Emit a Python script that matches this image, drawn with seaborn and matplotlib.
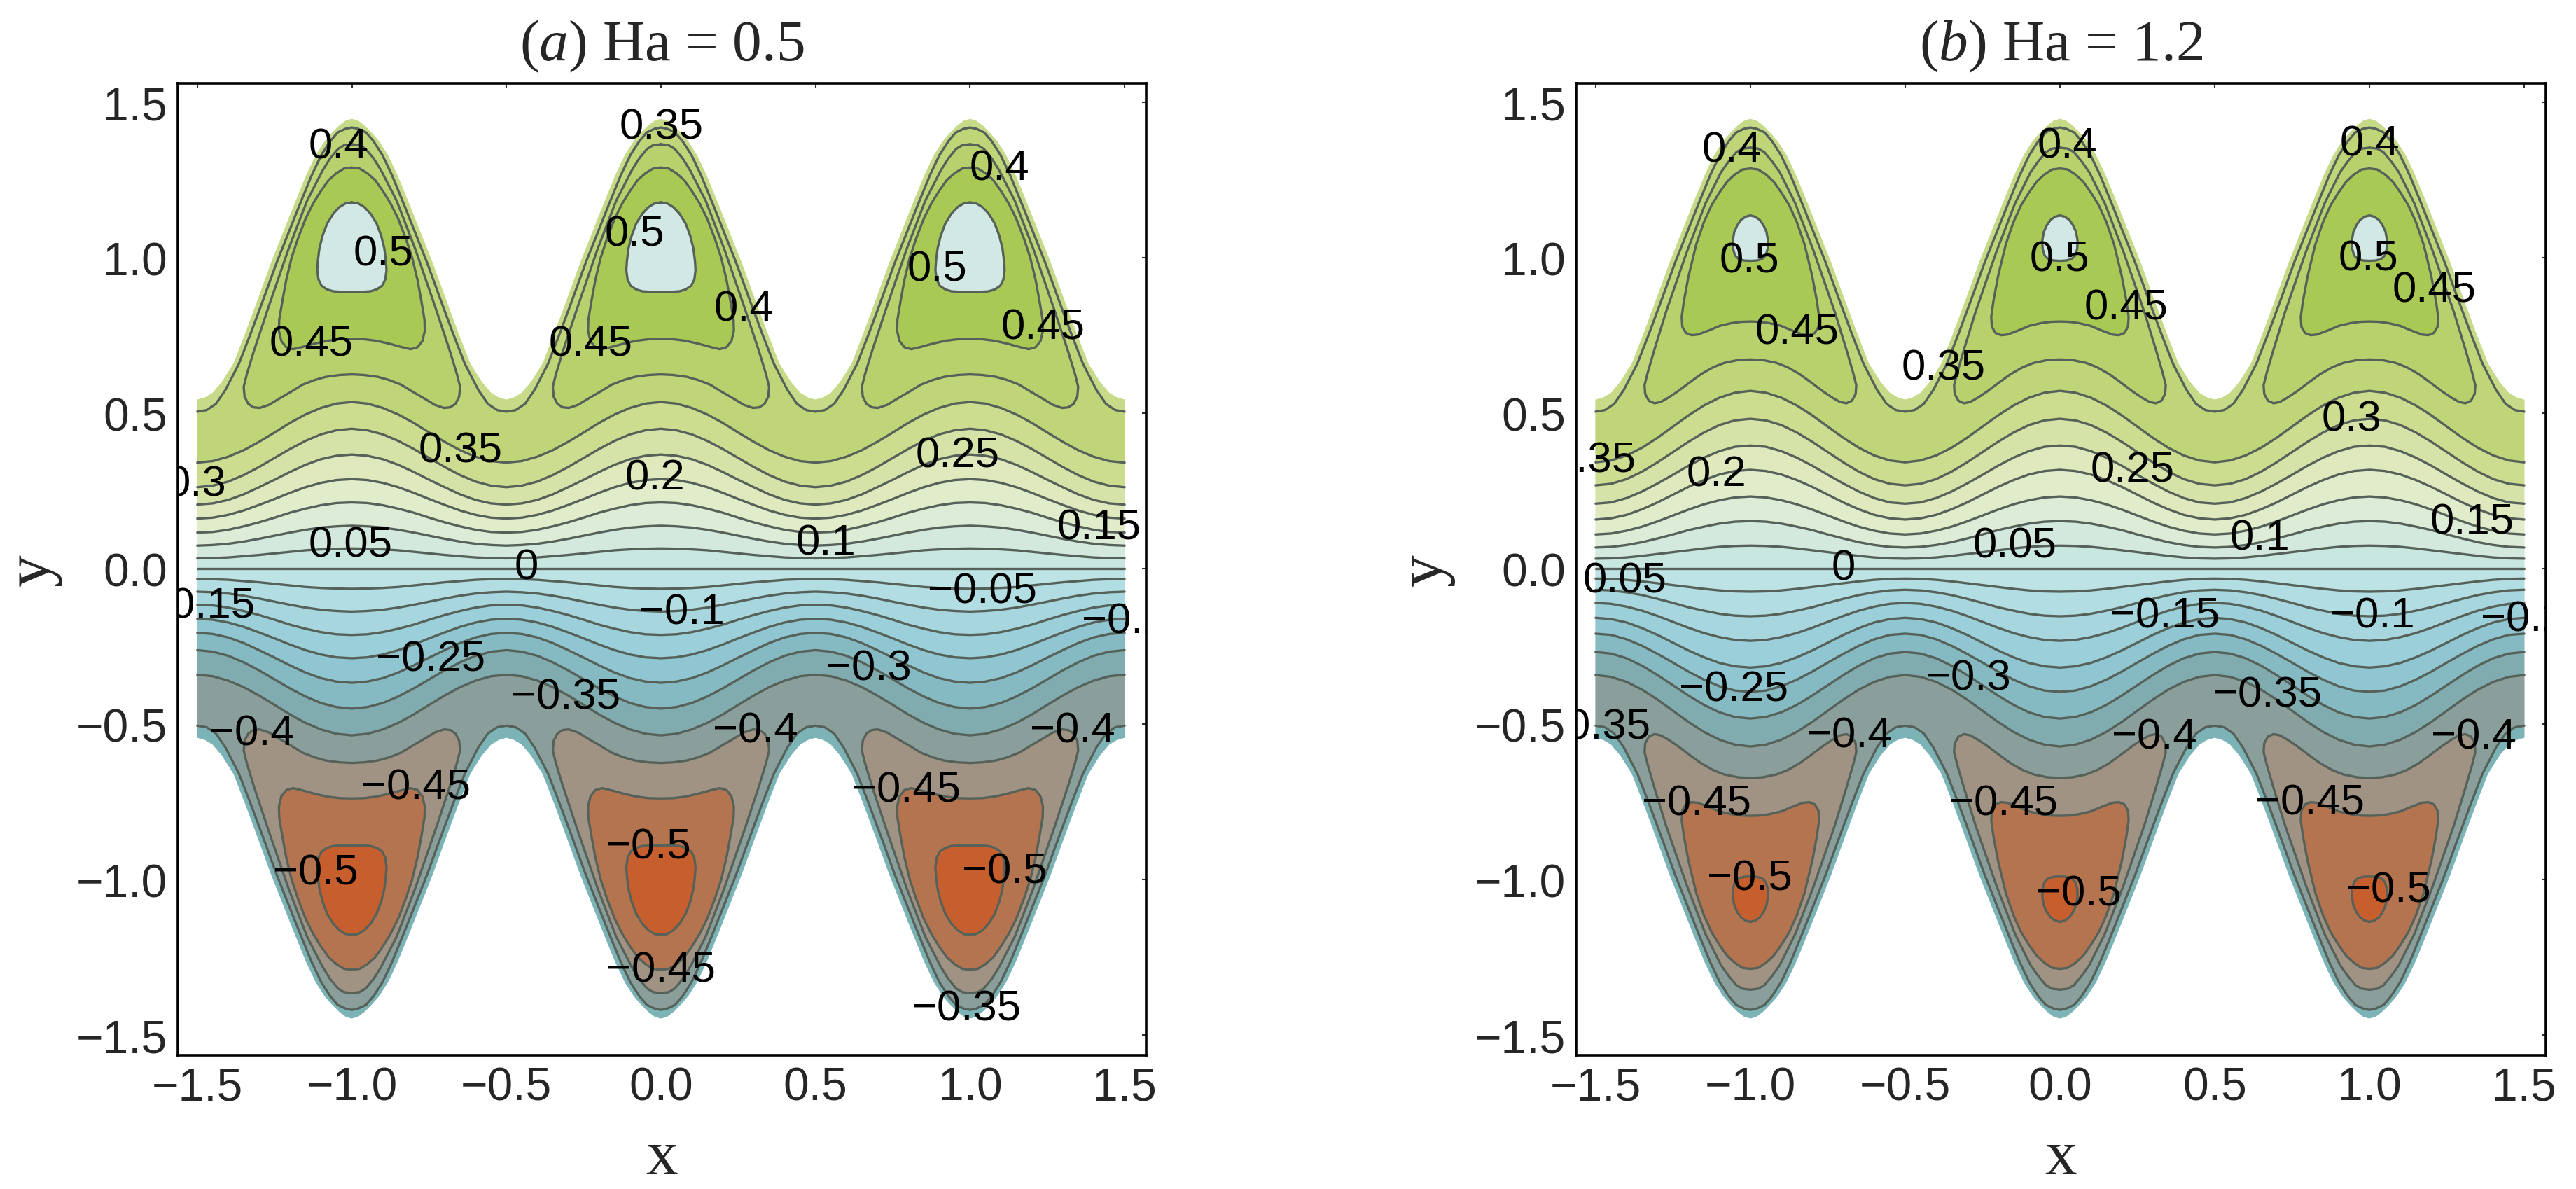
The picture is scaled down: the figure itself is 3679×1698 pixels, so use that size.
import numpy as np
import matplotlib
matplotlib.use("Agg")
import matplotlib.pyplot as plt
import seaborn as sns

# --- Data ---
# One period of the channel is stored, as y against distance from the peak (dx)
PEAKS = [-1.0, 0.0, 1.0]
TICKS = [-1.5, -1.0, -0.5, 0.0, 0.5, 1.0, 1.5]
TICK_LABELS = ["\u22121.5", "\u22121.0", "\u22120.5", "0.0", "0.5", "1.0", "1.5"]

WALL_DX = [0, .02, .04, .065, .087, .116, .147, .184, .222, .26, .302, .343, .382, .42, .45, .475, .5]
WALL_Y = [1.446, 1.44, 1.425, 1.40, 1.375, 1.33, 1.265, 1.175, 1.08, .985, .87, .76, .66, .60, .565, .55, .543]

OUTER_DX = [0, .02, .046, .07, .099, .13, .167, .205, .243, .285, .326, .365, .409, .44, .47, .5]
OUTER_Y = [1.419, 1.415, 1.403, 1.375, 1.33, 1.265, 1.175, 1.08, .985, .87, .76, .66, .575, .53, .51, .505]

WAVE_DX = [0, .05, .1, .15, .2, .25, .3, .35, .4, .45, .5]
A_WAVES = [
    [.536, .531, .517, .496, .469, .438, .408, .381, .360, .346, .341],
    [.450, .445, .432, .411, .385, .356, .327, .301, .280, .267, .262],
    [.367, .363, .352, .334, .311, .286, .262, .239, .221, .210, .206],
    [.288, .285, .276, .262, .244, .224, .205, .187, .173, .164, .161],
    [.213, .211, .204, .193, .180, .164, .149, .136, .125, .118, .116],
    [.138, .136, .132, .125, .116, .106, .096, .087, .080, .076, .074],
    [.065, .064, .062, .059, .054, .049, .044, .040, .036, .034, .033],
]
B_WAVES = [
    [.572, .566, .550, .525, .493, .457, .421, .389, .364, .348, .342],
    [.482, .477, .462, .438, .408, .375, .342, .312, .288, .273, .268],
    [.396, .392, .378, .357, .331, .302, .274, .248, .227, .213, .209],
    [.318, .314, .303, .285, .263, .238, .213, .191, .173, .162, .158],
    [.232, .229, .220, .207, .190, .171, .152, .135, .122, .113, .110],
    [.153, .151, .145, .135, .124, .110, .097, .085, .076, .070, .068],
    [.074, .073, .070, .065, .059, .053, .047, .041, .036, .033, .032],
]
ZERO_LINE = [0, 0, 0, 0, 0, 0, 0, 0, 0, 0, 0]

# closed contours: half outline from the top of the loop round to its bottom
A_LOOP1_DX = [0, .025, .045, .07, .095, .145, .205, .273, .318, .34, .35, .347, .335, .318, .298, .268, .235, .195, .159, .12, .084, .04, 0]
A_LOOP1_Y = [1.365, 1.362, 1.35, 1.32, 1.28, 1.183, 1.028, .832, .697, .625, .585, .553, .530, .519, .517, .527, .547, .570, .592, .607, .617, .623, .625]
A_LOOP2_DX = [0, .025, .05, .075, .10, .125, .15, .175, .195, .212, .225, .235, .236, .228, .212, .19, .16, .12, .08, .04, 0]
A_LOOP2_Y = [1.29, 1.287, 1.272, 1.25, 1.215, 1.175, 1.125, 1.06, 1.0, .93, .86, .80, .765, .732, .712, .706, .713, .724, .733, .738, .739]
A_LOOP3_DX = [0, .02, .04, .06, .08, .095, .105, .110, .112, .108, .098, .08, .06, .03, 0]
A_LOOP3_Y = [1.178, 1.175, 1.163, 1.142, 1.11, 1.07, 1.03, .99, .96, .93, .91, .898, .892, .890, .890]

B_LOOP1_DX = [0, .025, .045, .07, .095, .145, .205, .273, .31, .332, .342, .34, .328, .31, .29, .265, .235, .195, .159, .12, .084, .04, 0]
B_LOOP1_Y = [1.354, 1.351, 1.34, 1.31, 1.275, 1.175, 1.02, .825, .705, .63, .59, .562, .54, .532, .536, .55, .57, .60, .626, .648, .662, .671, .673]
B_LOOP2_DX = [0, .025, .05, .075, .10, .125, .15, .175, .20, .215, .222, .22, .208, .19, .17, .135, .099, .06, .03, 0]
B_LOOP2_Y = [1.287, 1.284, 1.268, 1.245, 1.21, 1.17, 1.115, 1.043, .94, .86, .81, .778, .758, .751, .753, .766, .781, .790, .794, .795]
B_LOOP3_DX = [0, .015, .03, .042, .052, .057, .056, .05, .038, .02, 0]
B_LOOP3_Y = [1.136, 1.132, 1.122, 1.105, 1.083, 1.055, 1.03, 1.008, .996, .991, .99]

# contour labels
A_LABELS = ["0.4", "0.35", "0.4", "0.5", "0.5", "0.5", "0.4", "0.45", "0.45", "0.45", "0.35", "0.25", "0.2", "0.3",
            "0.1", "0.15", "0.05", "0", "\u22120.05", "\u22120.1", "\u22120.15", "\u22120.25", "\u22120.3", "\u22120.35",
            "\u22120.4", "\u22120.4", "\u22120.4", "\u22120.45", "\u22120.45", "\u22120.5", "\u22120.5", "\u22120.5",
            "\u22120.45", "\u22120.35", "\u22120.2"]
A_LABEL_X = [-1.044, .001, 1.096, -.898, -.084, .893, .269, -1.132, -.228, 1.236, -.648, .959, -.02, -1.503,
             .533, 1.417, -1.005, -.435, 1.04, .068, -1.49, -.746, .673, -.307,
             -1.323, .306, 1.332, -.792, .794, -1.116, -.042, 1.112,
             .001, .989, 1.499]
A_LABEL_Y = [1.355, 1.419, 1.287, 1.012, 1.075, .961, .834, .721, .721, .775, .378, .362, .291, .27,
             .081, .13, .074, .003, -.075, -.141, -.122, -.293, -.322, -.415,
             -.531, -.523, -.523, -.705, -.714, -.98, -.896, -.975,
             -1.292, -1.417, -.171]

B_LABELS = ["0.4", "0.4", "0.4", "0.5", "0.5", "0.5", "0.45", "0.45", "0.45", "0.35", "0.35", "0.3", "0.25", "0.2",
            "0.15", "0.1", "0.05", "0.05", "0", "\u22120.15", "\u22120.1", "\u22120.2", "\u22120.25", "\u22120.3",
            "\u22120.35", "\u22120.35", "\u22120.4", "\u22120.4", "\u22120.4", "\u22120.45", "\u22120.45", "\u22120.45",
            "\u22120.5", "\u22120.5", "\u22120.5"]
B_LABEL_X = [-1.06, .024, 1.002, -1.004, 0, .996, -.85, .215, 1.209, -.377, -1.505, .942, .234, -1.109,
             1.332, .646, -.146, -1.406, -.70, .339, 1.009, 1.497, -1.054, -.297,
             .669, -1.499, -.682, .305, 1.336, -1.175, -.182, .807,
             -1.003, .061, 1.06]
B_LABEL_Y = [1.344, 1.359, 1.365, .99, .993, .995, .76, .838, .894, .644, .347, .48, .315, .302,
             .149, .097, .072, -.04, 0, -.153, -.153, -.165, -.39, -.354,
             -.408, -.511, -.538, -.543, -.543, -.757, -.757, -.755,
             -.998, -1.046, -1.035]

# band colours, top of the channel to the bottom
BAND_COLORS = ["#c6da88", "#bfd578", "#ccdd90", "#d6e3a8", "#dfe9bd", "#e1ecca", "#dcecd6", "#d3e9de", "#c9e7e1",
               "#bde3e4", "#b2dde2", "#a7d6df", "#9bcfd9", "#90c6d1", "#86bac3", "#80acb0", "#8a9f9b", "#7cb3b6"]
LOOP_COLORS_TOP = ["#b8d16c", "#a9c955", "#d2e8e4"]
LOOP_COLORS_BOTTOM = ["#a09383", "#b3744f", "#c65e2e"]
LINE_COLOR = "#566259"


def repeat_period(dx, y):
    # mirror the half period around every peak
    xs, ys = [], []
    for c in PEAKS:
        xs += [c - d for d in dx[::-1]] + [c + d for d in dx[1:]]
        ys += list(y[::-1]) + list(y[1:])
    return np.array(xs), np.array(ys)


def draw_line(ax, x, y):
    sns.lineplot(x=x, y=y, sort=False, estimator=None, errorbar=None,
                 color=LINE_COLOR, linewidth=2.4, ax=ax)


def draw_panel(ax, title, waves, loops, labels, label_x, label_y):
    curves = [(WALL_DX, WALL_Y), (OUTER_DX, OUTER_Y)]
    curves += [(WAVE_DX, w) for w in waves]
    curves += [(WAVE_DX, ZERO_LINE)]
    curves += [(WAVE_DX, [-v for v in w]) for w in waves[::-1]]
    curves += [(OUTER_DX, [-v for v in OUTER_Y]), (WALL_DX, [-v for v in WALL_Y])]
    traced = [repeat_period(dx, y) for dx, y in curves]

    # fill from the top wall down, one band per pair of curves
    for i, color in enumerate(BAND_COLORS):
        x1, y1 = traced[i]
        x2, y2 = traced[i + 1]
        ax.fill(np.r_[x1, x2[::-1]], np.r_[y1, y2[::-1]], color=color, lw=0.6)
    for x, y in traced[1:-1]:
        draw_line(ax, x, y)

    # closed contours in the bulges
    for sign, colors in [(1, LOOP_COLORS_TOP), (-1, LOOP_COLORS_BOTTOM)]:
        for (dx, y), color in zip(loops, colors):
            for c in PEAKS:
                lx = [c + d for d in dx] + [c - d for d in dx[::-1]]
                ly = [sign * v for v in y] + [sign * v for v in y[::-1]]
                ax.fill(lx, ly, color=color, lw=0)
                draw_line(ax, np.array(lx), np.array(ly))

    for text, x, y in zip(labels, label_x, label_y):
        ax.text(x, y, text, fontsize=44.5, family="Liberation Sans", color="black",
                ha="center", va="center", clip_on=True, zorder=5)

    ax.set_xlim(-1.563, 1.57)
    ax.set_ylim(-1.565, 1.561)
    ax.set_xticks(TICKS, labels=TICK_LABELS)
    ax.set_yticks(TICKS, labels=TICK_LABELS)
    ax.tick_params(axis="both", which="major", direction="in", length=4, width=1.5,
                   top=True, right=True, labelsize=47.5, pad=11, color="#333333")
    ax.set_title(title, fontsize=60, pad=24, family="Liberation Serif")
    ax.set_xlabel("x", fontsize=66, family="Liberation Serif", va="center")
    ax.set_ylabel("y", fontsize=66, family="Liberation Serif", va="center", ha="center")
    ax.xaxis.set_label_coords(0.5, -0.106)
    for side in ax.spines.values():
        side.set_color("black")
        side.set_linewidth(2.6)


def main():
    sns.set_theme(style="white")
    plt.rcParams["font.family"] = ["Liberation Sans", "DejaVu Sans"]
    plt.rcParams["mathtext.fontset"] = "custom"
    plt.rcParams["mathtext.rm"] = "Liberation Serif"
    plt.rcParams["mathtext.it"] = "Liberation Serif:italic"

    w, h = 3679, 1699
    fig = plt.figure(figsize=(w / 100, h / 100), dpi=100, facecolor="white")
    ax1 = fig.add_axes([254 / w, 1 - 1508 / h, 1383 / w, 1388 / h])
    ax2 = fig.add_axes([2251 / w, 1 - 1508 / h, 1385 / w, 1388 / h])

    draw_panel(ax1, r"($\mathit{a}$) Ha = 0.5", A_WAVES,
               [(A_LOOP1_DX, A_LOOP1_Y), (A_LOOP2_DX, A_LOOP2_Y), (A_LOOP3_DX, A_LOOP3_Y)],
               A_LABELS, A_LABEL_X, A_LABEL_Y)
    draw_panel(ax2, r"($\mathit{b}$) Ha = 1.2", B_WAVES,
               [(B_LOOP1_DX, B_LOOP1_Y), (B_LOOP2_DX, B_LOOP2_Y), (B_LOOP3_DX, B_LOOP3_Y)],
               B_LABELS, B_LABEL_X, B_LABEL_Y)
    ax1.yaxis.set_label_coords(-0.149, 0.5)
    ax2.yaxis.set_label_coords(-0.155, 0.5)

    fig.savefig("out.png", dpi=100, facecolor="white")


if __name__ == "__main__":
    main()
